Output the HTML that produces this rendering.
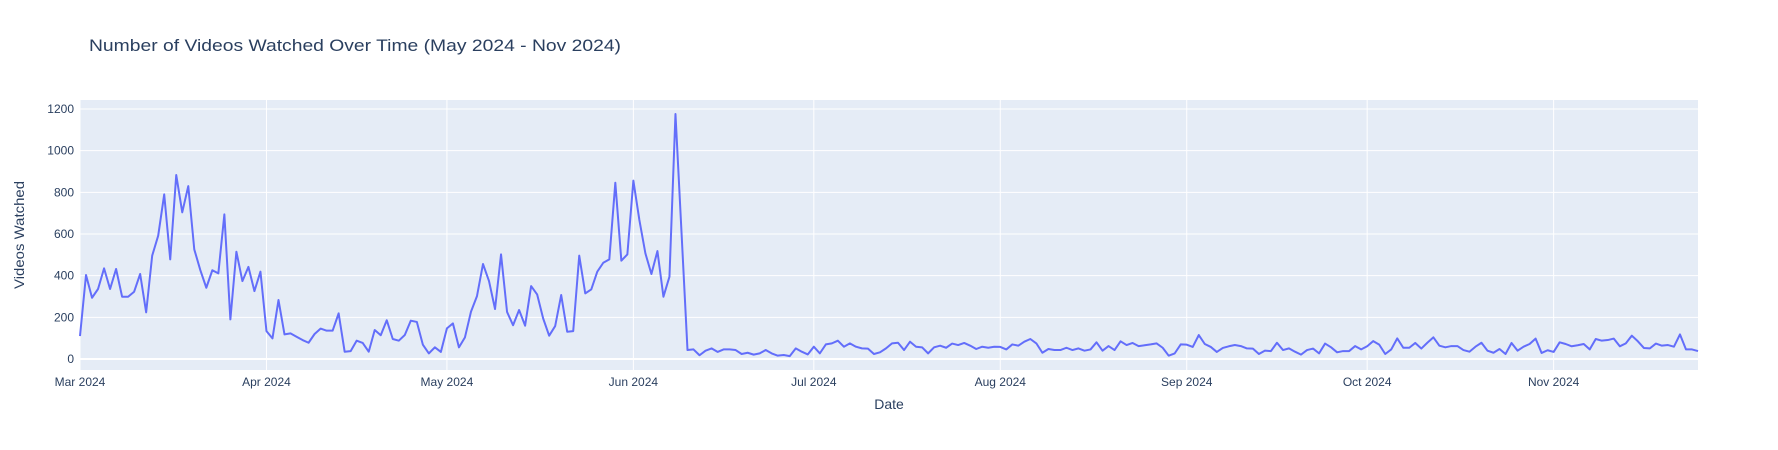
<!DOCTYPE html>
<html><head><meta charset="utf-8"><style>
html,body{margin:0;padding:0;background:#fff;}
svg{display:block;font-family:"Liberation Sans",Arial,sans-serif;}
</style></head><body>
<svg id="chart" width="1778" height="450" viewBox="0 0 1778 450" xmlns="http://www.w3.org/2000/svg">
<rect x="0" y="0" width="1778" height="450" fill="#fff"/>
<rect x="80" y="100" width="1618" height="270" fill="#E5ECF6"/>
<g id="grid"></g>
<g id="series"></g>
<g id="ticks"></g>
<text x="89" y="51" font-size="17" fill="#2a3f5f" textLength="532" lengthAdjust="spacingAndGlyphs">Number of Videos Watched Over Time (May 2024 - Nov 2024)</text>
<text x="889" y="409" font-size="14" fill="#2a3f5f" text-anchor="middle">Date</text>
<text x="0" y="0" font-size="14" fill="#2a3f5f" text-anchor="middle" transform="translate(24,235) rotate(-90)" textLength="108" lengthAdjust="spacingAndGlyphs">Videos Watched</text>
</svg>
<script>
const startDate = [2024, 2, 1];
const values = [110,403,294,336,435,336,432,299,299,323,408,224,496,592,790,478,883,704,830,526,427,342,426,411,694,190,515,374,442,326,419,
134,99,283,118,123,107,91,78,120,146,136,136,219,35,38,88,77,35,139,114,186,96,88,115,184,178,69,27,56,34,147,171,56,104,227,302,456,374,240,502,226,162,235,
160,350,310,195,112,158,307,131,134,496,315,334,419,462,478,846,472,502,856,667,507,408,518,299,395,1176,610,43,46,18,40,51,34,46,46,43,24,30,21,27,43,
27,16,19,14,51,35,22,59,27,70,75,88,59,75,59,51,50,24,32,51,75,78,43,83,59,56,27,56,64,54,74,67,77,64,48,59,
54,59,58,46,70,64,83,96,75,30,48,43,43,54,43,51,40,46,80,40,62,43,85,67,77,62,66,70,75,54,16,27,70,69,58,115,72,58,34,53,61,
67,62,51,50,24,40,38,78,43,51,35,21,43,50,27,74,56,32,38,38,62,46,61,86,69,24,46,99,54,54,77,50,78,104,64,56,
62,62,43,35,59,78,40,30,48,24,77,40,59,72,98,29,42,34,80,72,61,66,72,46,96,88,91,98,61,75,112,85,53,51,74,64,67,59,118,46,46,38];
const yTicks = [0,200,400,600,800,1000,1200];
const xTickLabels = ["Mar 2024","Apr 2024","May 2024","Jun 2024","Jul 2024","Aug 2024","Sep 2024","Oct 2024","Nov 2024"];
const xTickMonths = [2,3,4,5,6,7,8,9,10];

const NS = "http://www.w3.org/2000/svg";
const PL = 80, PR = 1698, PT = 100, PB = 370;
const DAY = 86400000;
const t0 = Date.UTC(startDate[0], startDate[1], startDate[2]);
const nDays = values.length - 1;
const yMin = -52.8, yMax = 1243.2;
function xScale(d){ return PL + (d / nDays) * (PR - PL); }
function yScale(v){ return PB - (v - yMin) / (yMax - yMin) * (PB - PT); }
function mk(tag, attrs, parent){ const e = document.createElementNS(NS, tag); for (const k in attrs) e.setAttribute(k, attrs[k]); parent.appendChild(e); return e; }

const grid = document.getElementById('grid');
const ticks = document.getElementById('ticks');
yTicks.forEach(v => {
  const y = yScale(v);
  const gl = mk('line', {x1:PL, x2:PR, y1:y, y2:y, stroke:'#fff', 'stroke-width': v===0?2:1}, grid);
  
  
  const t = mk('text', {x:PL-6, y:y+4, 'font-size':12, fill:'#2a3f5f', 'text-anchor':'end'}, ticks);
  t.textContent = v;
  
  
});
xTickMonths.forEach((m, i) => {
  const d = (Date.UTC(2024, m, 1) - t0) / DAY;
  const x = xScale(d);
  const gl = mk('line', {x1:x, x2:x, y1:PT, y2:PB, stroke:'#fff', 'stroke-width':1}, grid);
  
  
  const t = mk('text', {x:x, y:PB+16, 'font-size':12, fill:'#2a3f5f', 'text-anchor':'middle'}, ticks);
  t.textContent = xTickLabels[i];
  
  
});
const pts = values.map((v, i) => xScale(i).toFixed(2) + ',' + yScale(v).toFixed(2)).join(' ');
const line = mk('polyline', {points:pts, fill:'none', stroke:'#636efa', 'stroke-width':2, 'stroke-linejoin':'round'}, document.getElementById('series'));


</script>
</body></html>
